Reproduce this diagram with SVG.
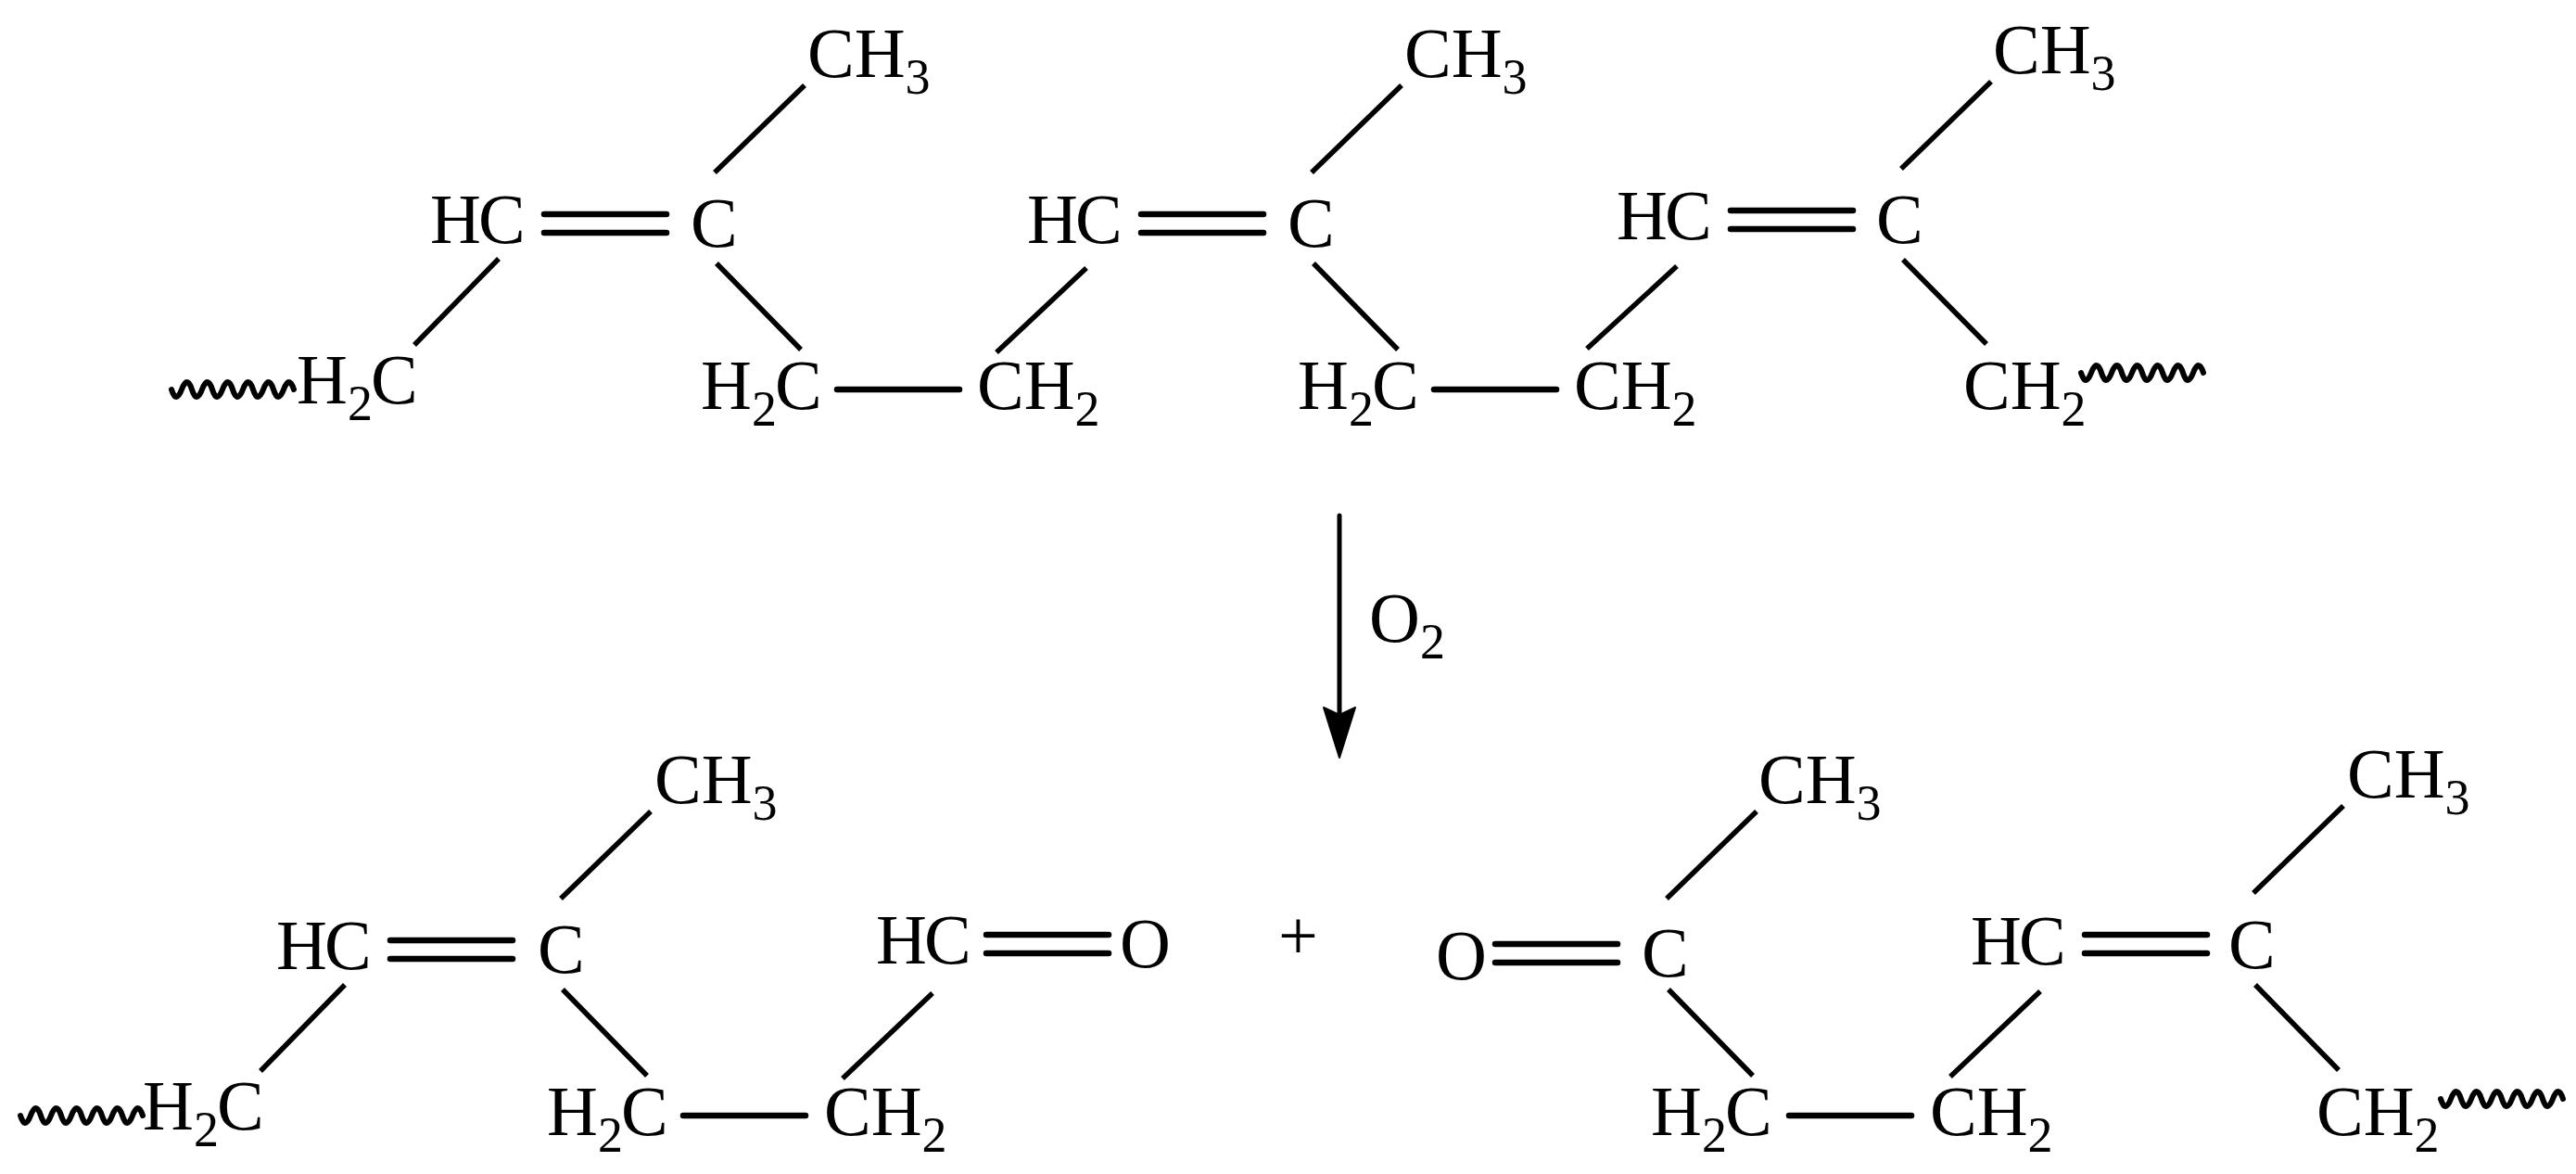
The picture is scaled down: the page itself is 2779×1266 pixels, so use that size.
<svg xmlns="http://www.w3.org/2000/svg" width="2779" height="1266" viewBox="0 0 2779 1266">
<defs>
<style>
text{font-family:"Liberation Serif","Times New Roman",serif;font-size:76px;fill:#000}
.s{font-size:54px}
.hc{letter-spacing:-3px}
#connectors line{stroke:#000;stroke-width:5.5px;fill:none}
#connectors line.h{stroke-linecap:round;stroke-width:6.5px}
#connectors line.a{stroke-linecap:round;stroke-width:5px}
.w{stroke:#000;stroke-width:6px;fill:none;stroke-linecap:round}
</style>
<path id="wave" d="M0 8q5 16 11 0t11 0t11 0t11 0t11 0t11 0t11 0t11 0t11 0t11 0t11 0t11 0"/>
</defs>
<rect width="2779" height="1266" fill="#fff"/>
<g id="connectors">
<line x1="868" y1="92" x2="771" y2="186"/><line class="h" x1="587" y1="231" x2="719" y2="231"/><line class="h" x1="587" y1="251" x2="719" y2="251"/><line x1="538" y1="279" x2="447" y2="372"/><line x1="773" y1="284" x2="864" y2="377"/><line class="h" x1="903" y1="420" x2="1035" y2="420"/>
<line x1="1512" y1="92" x2="1415" y2="186"/><line class="h" x1="1231" y1="231" x2="1363" y2="231"/><line class="h" x1="1231" y1="251" x2="1363" y2="251"/><line x1="1172" y1="289" x2="1075" y2="380"/><line x1="1417" y1="284" x2="1508" y2="377"/><line class="h" x1="1547" y1="420" x2="1679" y2="420"/>
<line x1="2148" y1="88" x2="2051" y2="182"/><line class="h" x1="1867" y1="227" x2="1999" y2="227"/><line class="h" x1="1867" y1="247" x2="1999" y2="247"/><line x1="1809" y1="287" x2="1712" y2="376"/><line x1="2053" y1="280" x2="2143" y2="371"/>
<line x1="702" y1="875" x2="605" y2="969"/><line class="h" x1="421" y1="1014" x2="553" y2="1014"/><line class="h" x1="421" y1="1034" x2="553" y2="1034"/><line x1="372" y1="1062" x2="281" y2="1155"/><line x1="607" y1="1067" x2="698" y2="1160"/><line class="h" x1="737" y1="1203" x2="869" y2="1203"/>
<line x1="1006" y1="1071" x2="909" y2="1163"/><line class="h" x1="1064" y1="1008" x2="1196" y2="1008"/><line class="h" x1="1064" y1="1028" x2="1196" y2="1028"/>
<line class="h" x1="1613" y1="1018" x2="1745" y2="1018"/><line class="h" x1="1613" y1="1038" x2="1745" y2="1038"/><line x1="1895" y1="875" x2="1798" y2="969"/><line x1="1800" y1="1067" x2="1891" y2="1160"/><line class="h" x1="1930" y1="1203" x2="2062" y2="1203"/><line x1="2201" y1="1069" x2="2104" y2="1161"/>
<line class="h" x1="2249" y1="1008" x2="2381" y2="1008"/><line class="h" x1="2249" y1="1028" x2="2381" y2="1028"/><line x1="2528" y1="869" x2="2431" y2="963"/><line x1="2433" y1="1062" x2="2523" y2="1154"/>
<line class="a" x1="1445" y1="556" x2="1445" y2="770"/>
<polygon points="1428,763 1445,817 1462,763 1445,771" fill="#000" stroke="#000" stroke-width="2" stroke-linejoin="round"/>
<use href="#wave" class="w" transform="translate(185,412)"/>
<use href="#wave" class="w" transform="translate(2245,394)"/>
<use href="#wave" class="w" transform="translate(22,1195)"/>
<use href="#wave" class="w" transform="translate(2633,1177)"/>
</g>
<g id="n1"><text class="hc" x="464" y="262">HC</text></g>
<g id="n2"><text x="745" y="266">C</text></g>
<g id="n3"><text x="871" y="83">CH<tspan class="s" dy="18">3</tspan></text></g>
<g id="n4"><text x="320" y="435">H<tspan class="s" dy="18">2</tspan><tspan dy="-18" dx="-2">C</tspan></text></g>
<g id="n5"><text x="756" y="441">H<tspan class="s" dy="18">2</tspan><tspan dy="-18" dx="-2">C</tspan></text></g>
<g id="n6"><text x="1054" y="441">CH<tspan class="s" dy="18">2</tspan></text></g>
<g id="n7"><text class="hc" x="1108" y="262">HC</text></g>
<g id="n8"><text x="1389" y="266">C</text></g>
<g id="n9"><text x="1515" y="83">CH<tspan class="s" dy="18">3</tspan></text></g>
<g id="n10"><text x="1400" y="441">H<tspan class="s" dy="18">2</tspan><tspan dy="-18" dx="-2">C</tspan></text></g>
<g id="n11"><text x="1698" y="441">CH<tspan class="s" dy="18">2</tspan></text></g>
<g id="n12"><text class="hc" x="1744" y="258">HC</text></g>
<g id="n13"><text x="2024" y="262">C</text></g>
<g id="n14"><text x="2150" y="79">CH<tspan class="s" dy="18">3</tspan></text></g>
<g id="n15"><text x="2118" y="441">CH<tspan class="s" dy="18">2</tspan></text></g>
<g id="n16"><text x="1477" y="692">O<tspan class="s" dy="18">2</tspan></text></g>
<g id="n17"><text class="hc" x="298" y="1045">HC</text></g>
<g id="n18"><text x="580" y="1049">C</text></g>
<g id="n19"><text x="706" y="866">CH<tspan class="s" dy="18">3</tspan></text></g>
<g id="n20"><text x="154" y="1218">H<tspan class="s" dy="18">2</tspan><tspan dy="-18" dx="-2">C</tspan></text></g>
<g id="n21"><text x="590" y="1224">H<tspan class="s" dy="18">2</tspan><tspan dy="-18" dx="-2">C</tspan></text></g>
<g id="n22"><text x="889" y="1224">CH<tspan class="s" dy="18">2</tspan></text></g>
<g id="n23"><text class="hc" x="945" y="1039">HC</text></g>
<g id="n24"><text x="1208" y="1043">O</text></g>
<g id="n25"><text x="1379" y="1034">+</text></g>
<g id="n26"><text x="1549" y="1056">O</text></g>
<g id="n27"><text x="1771" y="1053">C</text></g>
<g id="n28"><text x="1897" y="866">CH<tspan class="s" dy="18">3</tspan></text></g>
<g id="n29"><text x="1781" y="1224">H<tspan class="s" dy="18">2</tspan><tspan dy="-18" dx="-2">C</tspan></text></g>
<g id="n30"><text x="2082" y="1224">CH<tspan class="s" dy="18">2</tspan></text></g>
<g id="n31"><text class="hc" x="2126" y="1040">HC</text></g>
<g id="n32"><text x="2404" y="1044">C</text></g>
<g id="n33"><text x="2532" y="860">CH<tspan class="s" dy="18">3</tspan></text></g>
<g id="n34"><text x="2499" y="1224">CH<tspan class="s" dy="18">2</tspan></text></g>
</svg>
